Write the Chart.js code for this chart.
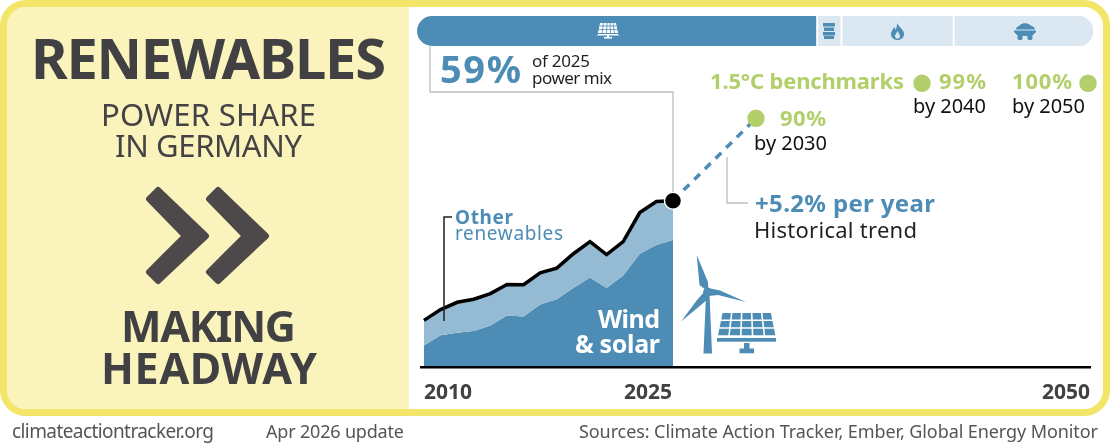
<!DOCTYPE html>
<html>
<head>
<meta charset="utf-8">
<title>Renewables power share in Germany</title>
<script src="https://cdn.jsdelivr.net/npm/chart.js@4"></script>
<style>
  html, body { margin: 0; padding: 0; background: #fff; }
  #wrap { position: relative; width: 1110px; height: 444px; overflow: hidden; font-family: "Noto Sans", sans-serif; }
  #frame { position: absolute; left: 0; top: 0; width: 1110px; height: 416px; box-sizing: border-box; border: 7px solid #f3e568; border-radius: 26px; overflow: hidden; background: #fff; }
  #panel { position: absolute; left: 0; top: 0; width: 402px; height: 402px; background: #faf3bc; }
  #mix { position: absolute; left: 417px; top: 16px; }
  #main { position: absolute; left: 0; top: 0; }
  #over { position: absolute; left: 0; top: 0; }
  text { font-family: "Noto Sans", sans-serif; }
</style>
</head>
<body>
<div id="wrap">
  <div id="frame"><div id="panel"></div></div>
  <canvas id="main" width="1110" height="444"></canvas>
  <canvas id="mix" width="676" height="30"></canvas>
  <svg id="over" width="1110" height="444" viewBox="0 0 1110 444" xmlns="http://www.w3.org/2000/svg">
    <!-- left panel -->
    <text x="31" y="79" font-size="56" font-weight="700" fill="#414042" textLength="355">RENEWABLES</text>
    <text x="101" y="126" font-size="31" fill="#444244" textLength="215">POWER SHARE</text>
    <text x="115" y="157" font-size="31" fill="#444244" textLength="187">IN GERMANY</text>
    <g fill="#4d4849" stroke="#4d4849" stroke-width="6" stroke-linejoin="round">
      <path d="M158 190 L149 199 L185 236 L149 272 L158 281 L206 236 Z"/>
      <path d="M218 190 L209 199 L245 236 L209 272 L218 281 L266 236 Z"/>
    </g>
    <text x="121" y="342" font-size="43" font-weight="700" fill="#414042" textLength="175">MAKING</text>
    <text x="101" y="384" font-size="43" font-weight="700" fill="#414042" textLength="216">HEADWAY</text>

    <!-- footer -->
    <text x="12" y="438" font-size="19" fill="#555" textLength="202">climateactiontracker.org</text>
    <text x="266" y="438" font-size="18" fill="#555" textLength="138">Apr 2026 update</text>
    <text x="579" y="438" font-size="18" fill="#555" textLength="519">Sources: Climate Action Tracker, Ember, Global Energy Monitor</text>

    <!-- leader lines -->
    <path d="M430 46 V92 H673 V192" fill="none" stroke="#bcbec0" stroke-width="1.3"/>
    <path d="M727 157 V203 H748" fill="none" stroke="#bcbec0" stroke-width="1.3"/>
    <path d="M444 321 V217 H452" fill="none" stroke="#231f20" stroke-width="1.5"/>

    <!-- mix bar icons -->
    <g fill="#fff">
      <path d="M600 23 H616 L618 33 H598 Z"/>
      <rect x="597.5" y="34" width="21" height="1.5"/>
      <rect x="607" y="35" width="2" height="2.5"/>
      <rect x="604" y="37" width="8" height="1.5"/>
    </g>
    <g stroke="#4d8cb5" stroke-width="0.8">
      <path d="M603.5 23 L602 33 M607 23 L606.5 33 M610 23 L610.5 33 M613 23 L614.5 33 M599.5 26 H616.5 M599 29.5 H617"/>
    </g>
    <g fill="#4d8cb5">
      <rect x="823" y="23" width="12" height="3.5"/>
      <rect x="824" y="27.5" width="10" height="3.5"/>
      <rect x="823" y="32" width="12" height="3.5"/>
      <rect x="824" y="36" width="10" height="3"/>
      <path fill-rule="evenodd" d="M897 23 C899 27 904 30 904 34 C904 37.5 901 40 897.5 40 C894 40 891 37.5 891 34 C891 31 893 30 894 27 C895 28 895.5 29 895.5 30 C896.5 28 897.2 25.5 897 23 Z M897.5 31 C896.5 33 895 34.5 895 36 C895 37.8 896.2 38.8 897.5 38.8 C898.8 38.8 900 37.8 900 36 C900 34.5 898.5 33 897.5 31 Z"/>
      <path d="M1016 29.5 C1016 26.5 1019 26.5 1020 25 C1022 22.5 1028 22.5 1030 25 C1032 26.5 1035 26.5 1035 29.5 Z"/>
      <path d="M1014 30.5 H1036 V32 L1032 36 H1018 L1014 32 Z"/>
      <circle cx="1020" cy="37.5" r="2.6"/>
      <circle cx="1030" cy="37.5" r="2.6"/>
    </g>

    <!-- share callout -->
    <text x="440" y="83" font-size="38" font-weight="700" fill="#4d8cb5" textLength="81">59%</text>
    <text x="532" y="67" font-size="17" fill="#231f20" textLength="58">of 2025</text>
    <text x="532" y="84" font-size="17" fill="#231f20" textLength="80">power mix</text>

    <!-- benchmarks -->
    <text x="710" y="89" font-size="22" font-weight="700" fill="#b3cf6b" textLength="194">1.5°C benchmarks</text>
    <text x="939" y="89" font-size="22" font-weight="700" fill="#b3cf6b" textLength="47">99%</text>
    <text x="1012" y="89" font-size="22" font-weight="700" fill="#b3cf6b" textLength="60">100%</text>
    <text x="780" y="126" font-size="22" font-weight="700" fill="#b3cf6b" textLength="46">90%</text>
    <text x="913" y="113" font-size="20" fill="#111" textLength="73">by 2040</text>
    <text x="1012" y="113" font-size="20" fill="#111" textLength="73">by 2050</text>
    <text x="754" y="150" font-size="20" fill="#111" textLength="73">by 2030</text>

    <!-- trend -->
    <text x="755" y="212" font-size="24" font-weight="700" fill="#4d8cb5" textLength="180">+5.2% per year</text>
    <text x="754" y="238" font-size="22" fill="#231f20" textLength="163">Historical trend</text>

    <!-- area labels -->
    <text x="455" y="224" font-size="19" font-weight="700" fill="#4d8cb5" textLength="58">Other</text>
    <text x="455" y="240" font-size="19" fill="#4d8cb5" textLength="108">renewables</text>
    <text x="598" y="328" font-size="25" font-weight="700" fill="#fff" textLength="62">Wind</text>
    <text x="575" y="353" font-size="25" font-weight="700" fill="#fff" textLength="85">&amp; solar</text>

    <!-- turbine and panel -->
    <g fill="#4d8cb5">
      <path d="M703.5 353.5 L706 294 H709.5 L712 353.5 Z"/>
      <circle cx="707.5" cy="292" r="4.4"/>
      <path d="M696.7 255 L708 282 L708.5 292 L699.5 285 Z"/>
      <path d="M746 302 L720 290.5 L708 288 L709 296 L718 295 Z"/>
      <path d="M681 321.5 L697 300 L705 291 L709 298 L701 305 Z"/>
    </g>
    <g id="pv" fill="#4d8cb5"></g>

    <g id="ticks"></g>
  </svg>
</div>

<script>
// values, % of power generation
const years = [2010, 2011, 2012, 2013, 2014, 2015, 2016, 2017, 2018, 2019, 2020, 2021, 2022, 2023, 2024, 2025];
const windSolar = [7.8, 11.4, 12.3, 12.9, 14.9, 18.4, 18.1, 22.3, 24.2, 28.2, 31.9, 28.2, 32.6, 40.3, 43.4, 45.2];
const allRenewables = [16.7, 20.5, 23.1, 24.2, 26.2, 29.4, 29.3, 33.5, 35.2, 40.3, 44.6, 40.0, 44.6, 54.9, 58.8, 59.1];

// dashed trend and benchmark dots, at the height they sit in the picture
const trendYears = [2025, 2030];
const trendValues = [59.1, 88.3];
const benchmarkYears = [2030, 2040, 2050];
const benchmarkValues = [88.3, 100.7, 100.7];

const tickYears = [2010, 2025, 2050];
const tickLabels = ['2010', '2025', '2050'];

// 2025 power mix bar, % width of each segment
const mixNames = ['Renewables', 'Oil', 'Gas', 'Coal'];
const mixValues = [59.3, 3.6, 16.6, 20.5];

const BLUE = '#4d8cb5';
const LIGHT = '#95bad3';
const PALE = '#dce8f1';
const GREEN = '#b3cf6b';

function xy(xs, ys) {
  return xs.map((x, i) => ({ x, y: ys[i] }));
}

const chart = new Chart(document.getElementById('main'), {
  type: 'line',
  data: {
    datasets: [
      { label: 'Wind & solar', order: 4, data: xy(years, windSolar), borderWidth: 0, pointRadius: 0, backgroundColor: BLUE, fill: 'origin', tension: 0 },
      { label: 'Other renewables', order: 3, data: xy(years, allRenewables), borderColor: '#000', borderWidth: 3.5, pointRadius: 0, backgroundColor: LIGHT, fill: 0, tension: 0 },
      { label: 'Trend', order: 2, data: xy(trendYears, trendValues), borderColor: BLUE, borderWidth: 3.5, borderDash: [8, 7], pointRadius: 0, fill: false, clip: false },
      { label: '1.5C benchmarks', order: 1, data: xy(benchmarkYears, benchmarkValues), showLine: false, pointRadius: 8.7, pointBackgroundColor: GREEN, pointBorderWidth: 0, fill: false, clip: false },
      { label: '2025', order: 0, data: xy([years[years.length - 1]], [allRenewables[allRenewables.length - 1]]), showLine: false, pointRadius: 8.5, pointBackgroundColor: '#000', pointBorderColor: '#fff', pointBorderWidth: 1.5, fill: false, clip: false },
    ]
  },
  options: {
    responsive: false,
    animation: false,
    layout: { padding: { left: 421.5, right: 20, top: 57, bottom: 68.5 } },
    plugins: { legend: { display: false }, tooltip: { enabled: false } },
    scales: {
      x: {
        type: 'linear', min: 2009.85, max: 2050.12,
        grid: { display: false },
        ticks: { display: false },
        border: { color: '#000', width: 2.5, z: 1 },
      },
      y: { display: false, min: 0, max: 110 },
    }
  }
});

new Chart(document.getElementById('mix'), {
  type: 'bar',
  data: {
    labels: ['2025'],
    datasets: mixNames.map((name, i) => ({
      label: name,
      data: [mixValues[i]],
      backgroundColor: i === 0 ? BLUE : PALE,
      borderColor: '#fff',
      borderWidth: i === mixNames.length - 1 ? 0 : { right: 2 },
      borderSkipped: false,
      borderRadius: i === 0 ? { topLeft: 15, bottomLeft: 15 } : i === mixNames.length - 1 ? { topRight: 15, bottomRight: 15 } : 0,
      barPercentage: 1,
      categoryPercentage: 1,
    }))
  },
  options: {
    indexAxis: 'y',
    responsive: false,
    animation: false,
    layout: { padding: 0 },
    plugins: { legend: { display: false }, tooltip: { enabled: false } },
    scales: {
      x: { display: false, stacked: true, min: 0, max: 100 },
      y: { display: false, stacked: true },
    }
  }
});

// year labels hang off the chart's x scale, 2010 left aligned and the others right aligned
const NS = 'http://www.w3.org/2000/svg';
const tickGroup = document.getElementById('ticks');
tickYears.forEach((yr, i) => {
  const t = document.createElementNS(NS, 'text');
  const px = chart.scales.x.getPixelForValue(yr);
  t.setAttribute('x', i === 0 ? px : px + (i === 1 ? -1 : 2));
  t.setAttribute('y', chart.chartArea.bottom + 31);
  t.setAttribute('text-anchor', i === 0 ? 'start' : 'end');
  t.setAttribute('font-size', '21');
  t.setAttribute('font-weight', '700');
  t.setAttribute('fill', '#414042');
  t.textContent = tickLabels[i];
  tickGroup.appendChild(t);
});

// solar panel icon next to the turbine, cells splay out towards the bottom
let cells = '';
for (let r = 0; r < 3; r++) {
  const y0 = 313 + r * 7.9, y1 = y0 + 6.4;
  const cellX = (y, k) => 746.7 + (k - 2.5) * (10 + (y - 313) * 0.08);
  for (let c = 0; c < 5; c++) {
    cells += `<path d="M${cellX(y0, c) + 0.8} ${y0} L${cellX(y0, c + 1) - 0.8} ${y0} L${cellX(y1, c + 1) - 0.8} ${y1} L${cellX(y1, c) + 0.8} ${y1} Z"/>`;
  }
}
cells += '<rect x="717" y="338" width="59" height="3.7"/><rect x="744" y="343" width="5.5" height="6"/><rect x="739.5" y="348.5" width="14.5" height="4.8"/>';
document.getElementById('pv').innerHTML = cells;
</script>
</body>
</html>
